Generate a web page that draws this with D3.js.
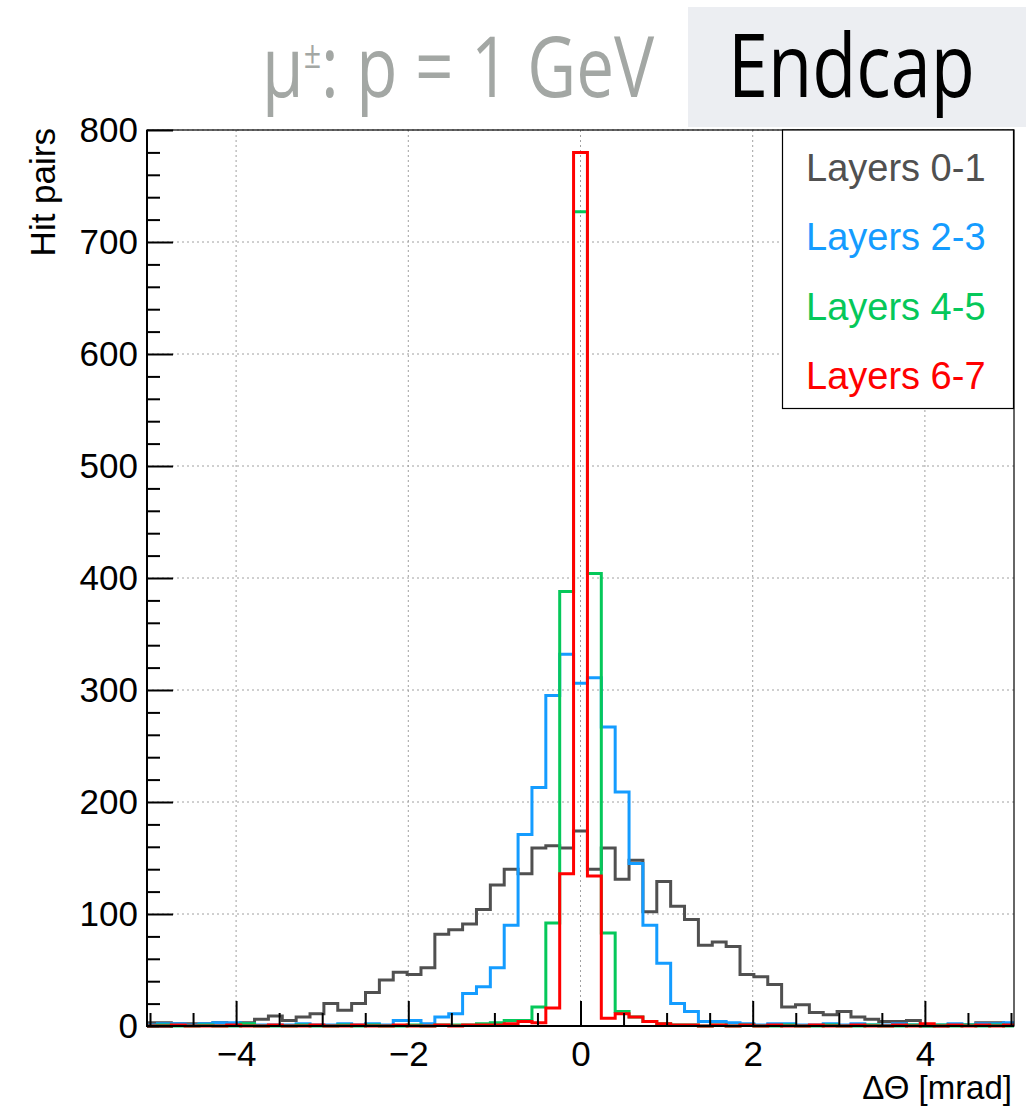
<!DOCTYPE html>
<html>
<head>
<meta charset="utf-8">
<title>Endcap hit pairs</title>
<style>
body { margin: 0; background: #fff; }
text { font-family: "Liberation Sans", Arial, sans-serif; }
</style>
<script src="https://d3js.org/d3.v7.min.js"></script>
</head>
<body>
<script>
// bins are centred on k * binWidth, k = -31 .. 31
var binWidth = 0.1611;
var binIndex = d3.range(-31, 32);

var layers01 = [3,3,2,2,2,3,2,3,6,9, 5,8,11,20,14,20,30,41,48,46, 52,82,86,91,104,126,140,136,159,161, 159,
  174,
  140,159,131,148,102,129,107,95,72,75, 71,46,44,37,17,19,12,10,13,8, 6,4,4,5,0,0,1,1,3,3, 1];
var layers23 = [1,2,2,1,2,3,3,2,1,1, 1,2,1,1,2,1,2,1,5,5, 2,8,11,29,35,52,90,171,213,295, 332,
  306,
  311,267,209,145,90,56,20,13,4,4, 3,2,1,2,2,1,1,2,1,2, 1,1,2,1,1,1,2,1,2,2, 3];
var layers45 = [0,1,0,0,1,0,0,2,0,0, 0,1,0,0,1,0,1,0,0,1, 0,1,1,1,2,3,5,5,17,92, 388,
  727,
  404,83,13,8,4,2,1,1,0,1, 0,1,0,0,1,0,0,1,0,0, 1,0,0,1,0,1,0,1,0,1, 0];
var layers67 = [0,0,1,0,0,0,1,0,0,1, 0,0,1,0,0,1,0,0,1,0, 0,1,0,1,1,1,2,4,3,16, 136,
  780,
  134,7,11,8,4,2,1,1,0,1, 0,1,0,1,0,0,1,0,0,1, 0,0,1,0,2,0,1,0,1,0, 1];

var seriesNames = ["Layers 0-1", "Layers 2-3", "Layers 4-5", "Layers 6-7"];
var seriesColors = ["#505050", "#149cff", "#05c85a", "#ff0000"];
var seriesValues = [layers01, layers23, layers45, layers67];

var xMajor = [-4, -2, 0, 2, 4];
var xMinor = d3.range(-10, 11).map(function(d) { return d / 2; }).filter(function(d) { return xMajor.indexOf(d) < 0; });
var yMajor = d3.range(0, 900, 100);
var yMinor = d3.range(0, 820, 20).filter(function(d) { return d % 100 != 0; });

var W = 1026, H = 1109;
var frameL = 147, frameR = 1014, frameT = 130, frameB = 1026;

var x = d3.scaleLinear().domain([-5, 5]).range([150, 1011]);
var y = d3.scaleLinear().domain([0, 800]).range([frameB, frameT]);

var svg = d3.select("body").append("svg")
    .attr("width", W)
    .attr("height", H);

// header
svg.append("rect")
    .attr("x", 688).attr("y", 7)
    .attr("width", W - 688).attr("height", 120)
    .attr("fill", "#eceef2");

var title = svg.append("text")
    .attr("font-size", 84)
    .attr("fill", "#a3a7a4")
    .style("font-family", "'Open Sans', sans-serif");
title.append("tspan").text("μ");
title.append("tspan").attr("font-size", 38).attr("dy", -29).text("±");
title.append("tspan").attr("dy", 29).text(": p = 1 GeV");
var tw = title.node().getBBox().width;
title.attr("transform", "translate(262,97) scale(" + (393 / tw) + ",1)");

var endcap = svg.append("text")
    .attr("font-size", 88)
    .attr("fill", "#000")
    .style("font-family", "'Open Sans', sans-serif")
    .text("Endcap");
var ew = endcap.node().getBBox().width;
endcap.attr("transform", "translate(728,97) scale(" + (247 / ew) + ",1)");

// grid
svg.append("g").selectAll("line")
    .data(xMajor)
    .enter().append("line")
    .attr("x1", function(d) { return x(d); })
    .attr("x2", function(d) { return x(d); })
    .attr("y1", frameT)
    .attr("y2", frameB)
    .attr("stroke", "#a0a0a0")
    .attr("stroke-dasharray", "2,3");
svg.append("g").selectAll("line")
    .data(yMajor.filter(function(d) { return d > 0; }))
    .enter().append("line")
    .attr("x1", frameL)
    .attr("x2", frameR)
    .attr("y1", function(d) { return y(d); })
    .attr("y2", function(d) { return y(d); })
    .attr("stroke", "#a0a0a0")
    .attr("stroke-dasharray", "2,3");

// histograms
svg.append("clipPath").attr("id", "plot")
  .append("rect")
    .attr("x", frameL).attr("y", frameT - 2)
    .attr("width", frameR - frameL).attr("height", frameB - frameT + 4);

var line = d3.line()
    .x(function(d) { return x(d[0]); })
    .y(function(d) { return y(d[1]); });

function steps(vals) {
  var pts = [[(binIndex[0] - 0.5) * binWidth, 0]];
  vals.forEach(function(v, i) {
    var c = binIndex[i] * binWidth;
    pts.push([c - binWidth / 2, v]);
    pts.push([c + binWidth / 2, v]);
  });
  pts.push([(binIndex[binIndex.length - 1] + 0.5) * binWidth, 0]);
  return pts;
}

svg.append("g")
    .attr("clip-path", "url(#plot)")
  .selectAll("path")
    .data(seriesValues)
    .enter().append("path")
    .attr("d", function(d) { return line(steps(d)); })
    .attr("fill", "none")
    .attr("stroke", function(d, i) { return seriesColors[i]; })
    .attr("stroke-width", 3);

// axes
svg.append("g")
    .attr("transform", "translate(" + frameL + ",0)")
    .call(d3.axisLeft(y).tickValues(yMajor).tickSizeInner(-26).tickSizeOuter(0).tickPadding(9));
svg.append("g")
    .attr("transform", "translate(" + frameL + ",0)")
    .call(d3.axisLeft(y).tickValues(yMinor).tickSizeInner(-13).tickSizeOuter(0).tickFormat(""));
svg.append("g")
    .attr("transform", "translate(0," + frameB + ")")
    .call(d3.axisBottom(x).tickValues(xMajor).tickSizeInner(-25).tickSizeOuter(0).tickPadding(15));
svg.append("g")
    .attr("transform", "translate(0," + frameB + ")")
    .call(d3.axisBottom(x).tickValues(xMinor).tickSizeInner(-13).tickSizeOuter(0).tickFormat(""));

svg.selectAll(".domain").remove();
svg.selectAll(".tick line").attr("stroke", "#000").attr("stroke-width", 2);
svg.selectAll(".tick text")
    .attr("font-size", 35)
    .attr("fill", "#000")
    .style("font-family", "'Liberation Sans', Arial, sans-serif");

// frame
svg.append("rect")
    .attr("x", frameL).attr("y", frameT)
    .attr("width", frameR - frameL).attr("height", frameB - frameT)
    .attr("fill", "none")
    .attr("stroke", "#000")
    .attr("stroke-width", 1.2);
svg.append("line")
    .attr("x1", frameL).attr("x2", frameL).attr("y1", frameT).attr("y2", frameB + 1)
    .attr("stroke", "#000").attr("stroke-width", 2);
svg.append("line")
    .attr("x1", frameL).attr("x2", frameR).attr("y1", frameB).attr("y2", frameB)
    .attr("stroke", "#000").attr("stroke-width", 2);

// axis titles
svg.append("text")
    .attr("transform", "translate(55,128) rotate(-90)")
    .attr("text-anchor", "end")
    .attr("font-size", 35)
    .text("Hit pairs");
svg.append("text")
    .attr("x", 1012)
    .attr("y", 1099)
    .attr("text-anchor", "end")
    .attr("font-size", 33)
    .text("ΔΘ [mrad]");

// legend
var legend = svg.append("g");
legend.append("rect")
    .attr("x", 782.5).attr("y", 130)
    .attr("width", 231).attr("height", 278.5)
    .attr("fill", "#fff")
    .attr("stroke", "#000")
    .attr("stroke-width", 1.2);
legend.selectAll("text.entry")
    .data(seriesNames)
    .enter().append("text")
    .attr("class", "entry")
    .attr("x", 806)
    .attr("y", function(d, i) { return 181 + i * 69.4; })
    .attr("font-size", 38)
    .attr("fill", function(d, i) { return seriesColors[i]; })
    .text(function(d) { return d; });
</script>
</body>
</html>
